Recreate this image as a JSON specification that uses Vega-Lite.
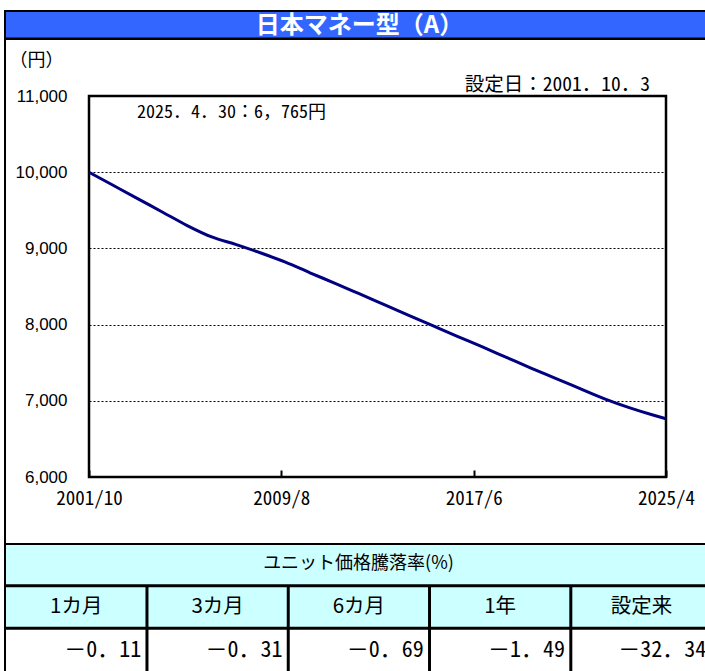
{
  "$schema": "https://vega.github.io/schema/vega-lite/v6.json",
  "padding": {"left": 2, "top": 10, "right": 0, "bottom": 0},
  "background": "white",
  "spacing": 0,
  "config": {"view": {"stroke": null}, "font": "Noto Sans CJK JP"},
  "datasets": {
    "nav": [
      {"date": "2001-10-01", "nav": 10000},
      {"date": "2002-10-01", "nav": 9825},
      {"date": "2003-10-01", "nav": 9650},
      {"date": "2004-10-01", "nav": 9475},
      {"date": "2005-10-01", "nav": 9300},
      {"date": "2006-10-01", "nav": 9150},
      {"date": "2007-10-01", "nav": 9050},
      {"date": "2008-10-01", "nav": 8940},
      {"date": "2009-10-01", "nav": 8820},
      {"date": "2010-10-01", "nav": 8680},
      {"date": "2011-10-01", "nav": 8545},
      {"date": "2012-10-01", "nav": 8405},
      {"date": "2013-10-01", "nav": 8265},
      {"date": "2014-10-01", "nav": 8125},
      {"date": "2015-10-01", "nav": 7985},
      {"date": "2016-10-01", "nav": 7845},
      {"date": "2017-10-01", "nav": 7710},
      {"date": "2018-10-01", "nav": 7570},
      {"date": "2019-10-01", "nav": 7430},
      {"date": "2020-10-01", "nav": 7295},
      {"date": "2021-10-01", "nav": 7160},
      {"date": "2022-10-01", "nav": 7025},
      {"date": "2023-10-01", "nav": 6910},
      {"date": "2024-10-01", "nav": 6810},
      {"date": "2025-04-01", "nav": 6765}
    ],
    "perf": [
      {"col": 0, "label": "1カ月", "value": "－0．11"},
      {"col": 1, "label": "3カ月", "value": "－0．31"},
      {"col": 2, "label": "6カ月", "value": "－0．69"},
      {"col": 3, "label": "1年", "value": "－1．49"},
      {"col": 4, "label": "設定来", "value": "－32．34"}
    ]
  },
  "vconcat": [
    {
      "width": 703,
      "height": 30,
      "view": {"fill": "#3366ff", "stroke": null},
      "data": {"values": [{"t": "日本マネー型（A）"}]},
      "layer": [
        {"mark": {"type": "text", "color": "white", "fontSize": 24, "fontWeight": "bold", "baseline": "middle", "dx": 4, "dy": 1}, "encoding": {"text": {"field": "t"}}},
        {"mark": {"type": "rule", "color": "black", "strokeWidth": 4, "clip": true}, "encoding": {"y": {"datum": 1, "type": "quantitative", "scale": {"domain": [0, 1], "nice": false}, "axis": null}}},
        {"mark": {"type": "rule", "color": "black", "strokeWidth": 5, "clip": true}, "encoding": {"y": {"datum": 0, "type": "quantitative"}}},
        {"mark": {"type": "rule", "color": "black", "strokeWidth": 4, "clip": true}, "encoding": {"x": {"datum": 0, "type": "quantitative", "scale": {"domain": [0, 1], "nice": false}, "axis": null}}}
      ]
    },
    {
      "spacing": 0,
      "bounds": "flush",
      "hconcat": [
        {
          "width": 85,
          "height": 503,
          "data": {"values": [{}]},
          "mark": {"type": "rule", "color": "black", "strokeWidth": 4, "clip": true},
          "encoding": {"x": {"datum": 0, "type": "quantitative", "scale": {"domain": [0, 1], "nice": false}, "axis": null}}
        },
        {
          "spacing": 0,
          "bounds": "flush",
          "vconcat": [
            {
              "width": 577,
              "height": 56,
              "data": {"values": [{"s": "設定日：2001．10．3"}]},
              "mark": {"type": "text", "align": "right", "baseline": "middle", "fontSize": 19.5, "dx": -16, "dy": -11, "color": "black", "font": "Noto Sans Mono CJK JP, Noto Sans CJK JP"},
              "encoding": {
                "x": {"datum": 1, "type": "quantitative", "scale": {"domain": [0, 1], "nice": false}, "axis": null},
                "y": {"datum": 0, "type": "quantitative", "scale": {"domain": [0, 1], "nice": false}, "axis": null},
                "text": {"field": "s"}
              }
            },
            {
              "width": 577,
              "height": 381,
              "view": {"stroke": "black", "strokeWidth": 2.5},
              "layer": [
                {
                  "data": {"name": "nav"},
                  "mark": {"type": "line", "color": "#000080", "strokeWidth": 3, "interpolate": "monotone"},
                  "encoding": {
                    "x": {
                      "field": "date", "type": "temporal",
                      "scale": {"type": "utc", "domain": [{"year": 2001, "month": 10, "date": 1, "utc": true}, {"year": 2025, "month": 4, "date": 1, "utc": true}]},
                      "axis": {
                        "values": [{"year": 2001, "month": 10, "date": 1, "utc": true}, {"year": 2009, "month": 8, "date": 1, "utc": true}, {"year": 2017, "month": 6, "date": 1, "utc": true}, {"year": 2025, "month": 4, "date": 1, "utc": true}],
                        "format": "%Y/%-m", "title": null, "grid": false, "domain": false,
                        "tickSize": -7, "tickWidth": 2, "tickColor": "black",
                        "labelPadding": 19, "labelFontSize": 19, "labelFont": "Noto Sans Mono CJK JP, Noto Sans CJK JP",
                        "labelColor": "black", "labelFlush": false, "labelOverlap": false
                      }
                    },
                    "y": {
                      "field": "nav", "type": "quantitative",
                      "scale": {"domain": [6000, 11000], "zero": false, "nice": false},
                      "axis": {
                        "values": [6000, 7000, 8000, 9000, 10000, 11000], "format": ",d",
                        "title": "（円）", "grid": true, "gridDash": [2, 2], "gridColor": "black", "gridWidth": 1, "gridOpacity": 1,
                        "ticks": false, "domain": false, "labelPadding": 22,
                        "labelFont": "Liberation Sans", "labelFontSize": 17, "labelColor": "black",
                        "titleAngle": 0, "titleAlign": "left", "titleBaseline": "middle", "titleX": -80, "titleY": -36,
                        "titleFontSize": 18, "titleFontWeight": "normal", "titleFont": "Noto Sans CJK JP", "titleColor": "black"
                      }
                    }
                  }
                },
                {
                  "data": {"values": [{"note": "2025．4．30：6，765円"}]},
                  "mark": {"type": "text", "align": "left", "baseline": "middle", "fontSize": 18, "font": "Noto Sans Mono CJK JP, Noto Sans CJK JP", "color": "black"},
                  "encoding": {
                    "x": {"datum": {"year": 2003, "month": 9, "date": 15, "utc": true}, "type": "temporal"},
                    "y": {"datum": 10780, "type": "quantitative"},
                    "text": {"field": "note"}
                  }
                }
              ]
            },
            {"width": 577, "height": 66, "data": {"values": [{}]}, "mark": {"type": "text", "text": ""}}
          ]
        }
      ]
    },
    {
      "width": 703,
      "height": 128,
      "view": {"fill": "#ccffff", "stroke": null},
      "layer": [
        {
          "data": {"values": [{}]},
          "mark": {"type": "rect", "color": "white"},
          "encoding": {
            "x": {"datum": -0.012, "type": "quantitative", "scale": {"domain": [-0.012, 4.964], "nice": false, "zero": false}, "axis": null},
            "x2": {"datum": 4.964},
            "y": {"datum": 2, "type": "quantitative", "scale": {"domain": [0, 3], "reverse": true, "nice": false}, "axis": null},
            "y2": {"datum": 3}
          }
        },
        {"data": {"values": [{}]}, "mark": {"type": "rule", "color": "black", "strokeWidth": 4, "clip": true}, "encoding": {"y": {"datum": 0, "type": "quantitative"}}},
        {"data": {"values": [{}]}, "mark": {"type": "rule", "color": "black", "strokeWidth": 3}, "encoding": {"y": {"datum": 1, "type": "quantitative"}}},
        {"data": {"values": [{}]}, "mark": {"type": "rule", "color": "black", "strokeWidth": 3}, "encoding": {"y": {"datum": 2, "type": "quantitative"}}},
        {"data": {"values": [{}]}, "mark": {"type": "rule", "color": "black", "strokeWidth": 4, "clip": true}, "encoding": {"x": {"datum": -0.012, "type": "quantitative"}}},
        {
          "data": {"name": "perf"},
          "transform": [{"filter": "datum.col > 0"}],
          "mark": {"type": "rule", "color": "black", "strokeWidth": 3},
          "encoding": {"x": {"field": "col", "type": "quantitative"}, "y": {"datum": 1, "type": "quantitative"}, "y2": {"datum": 3}}
        },
        {
          "data": {"values": [{"h": "ユニット価格騰落率(%)"}]},
          "mark": {"type": "text", "fontSize": 18, "baseline": "middle", "color": "black", "dx": 3},
          "encoding": {"y": {"datum": 0.5, "type": "quantitative"}, "text": {"field": "h"}}
        },
        {
          "data": {"name": "perf"},
          "mark": {"type": "text", "fontSize": 20.5, "baseline": "middle", "align": "center", "dx": 70.6, "color": "black"},
          "encoding": {"x": {"field": "col", "type": "quantitative"}, "y": {"datum": 1.5, "type": "quantitative"}, "text": {"field": "label"}}
        },
        {
          "data": {"name": "perf"},
          "mark": {"type": "text", "fontSize": 22, "baseline": "middle", "align": "right", "dx": 135.5, "color": "black", "font": "Noto Sans Mono CJK JP, Noto Sans CJK JP"},
          "encoding": {"x": {"field": "col", "type": "quantitative"}, "y": {"datum": 2.5, "type": "quantitative"}, "text": {"field": "value"}}
        }
      ]
    }
  ]
}
